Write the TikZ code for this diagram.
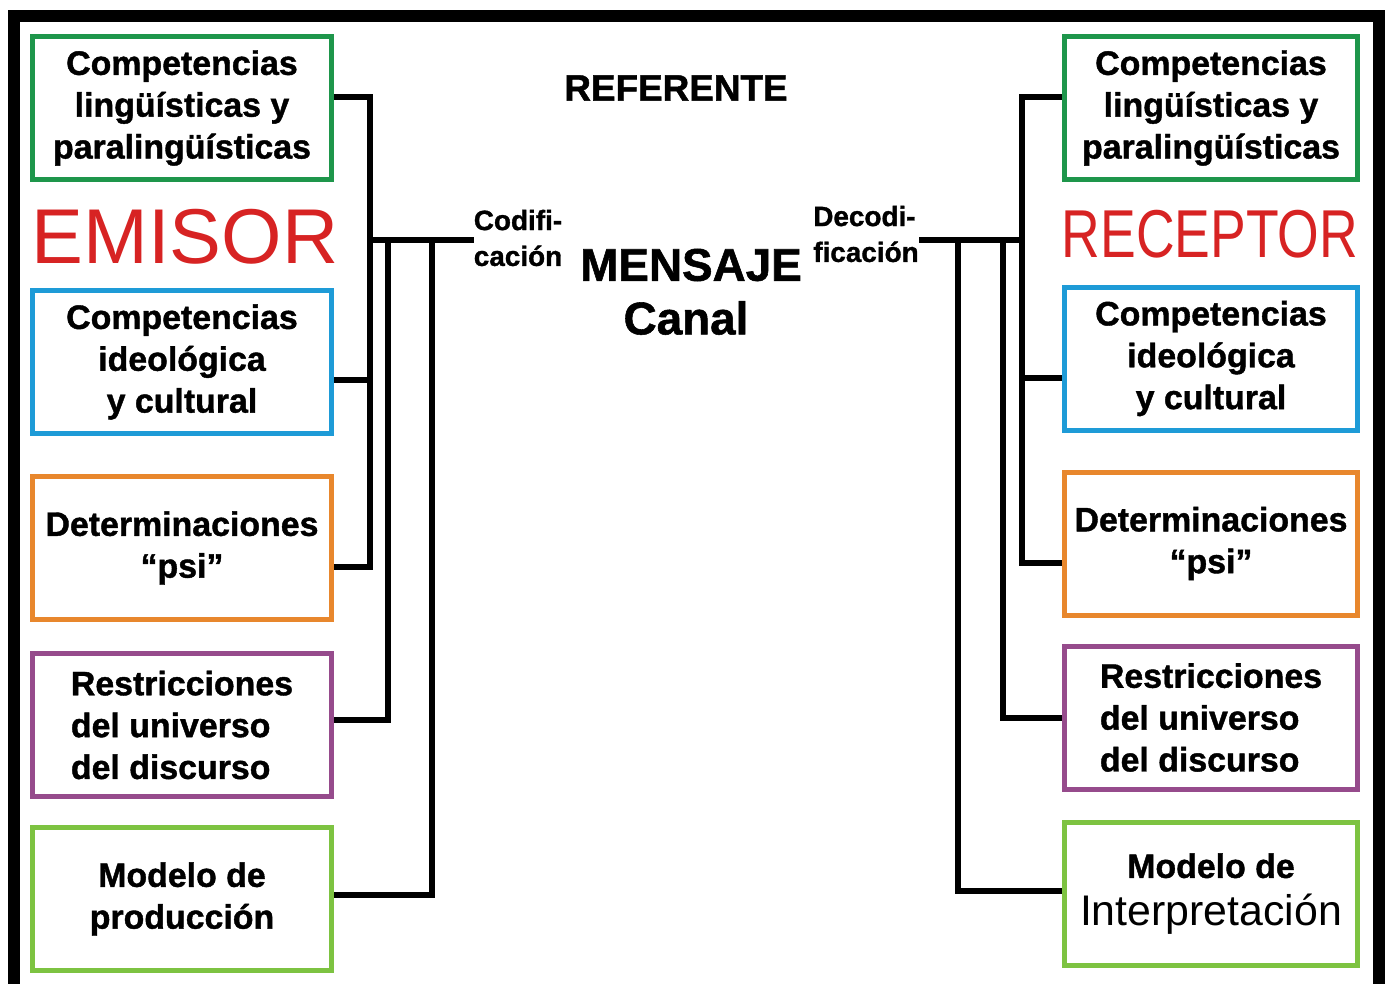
\documentclass[tikz,border=0pt]{standalone}
\usepackage{fontspec}
\setmainfont{Liberation Sans}[BoldFeatures={FakeBold=1.2}]
\usetikzlibrary{calc}
\definecolor{verdeOsc}{RGB}{30,150,75}
\definecolor{azulC}{RGB}{30,155,215}
\definecolor{naranja}{RGB}{232,135,45}
\definecolor{morado}{RGB}{150,75,140}
\definecolor{verdeCl}{RGB}{125,195,65}
\definecolor{rojoT}{RGB}{215,35,35}
\newcommand{\cajafont}{\fontsize{34}{42}\selectfont\bfseries}
\newcommand{\codfont}{\fontsize{28}{36}\selectfont\bfseries}

\begin{document}
\begin{tikzpicture}[x=1bp,y=-1bp,
caja/.style={draw, line width=5bp, minimum width=299bp, minimum height=143bp,
  inner sep=0pt, align=center, font=\cajafont},
wire/.style={line width=6bp},
polo/.style={inner sep=0pt, text=rojoT},
rotulo/.style={inner sep=0pt, font=\codfont, align=left}]
\clip (0,0) rectangle (1389,983);
\draw[line width=12bp] (14,15.5) rectangle (1379,1010);

% emisor
\node[caja, draw=verdeOsc] (e1) at (182,108) {Competencias\\lingüísticas y\\paralingüísticas};
\node[polo, font=\fontsize{78}{80}\selectfont] (emisor) at (185,237) {EMISOR};
\node[caja, draw=azulC] (e2) at (182,362) {Competencias\\ideológica\\y cultural};
\node[caja, draw=naranja] (e3) at (182,548) {Determinaciones\\“psi”};
\node[caja, draw=morado, align=left] (e4) at (182,725) {Restricciones\\del universo\\del discurso};
\node[caja, draw=verdeCl] (e5) at (182,899) {Modelo de\\producción};

% receptor
\node[caja, draw=verdeOsc, minimum width=293bp] (r1) at (1211,108) {Competencias\\lingüísticas y\\paralingüísticas};
\node[polo, font=\fontsize{68}{72}\selectfont] (receptor) at (1210,234) {\scalebox{0.79}[1]{RECEPTOR}};
\node[caja, draw=azulC, minimum width=293bp] (r2) at (1211,358.5) {Competencias\\ideológica\\y cultural};
\node[caja, draw=naranja, minimum width=293bp] (r3) at (1211,543.5) {Determinaciones\\“psi”};
\node[caja, draw=morado, minimum width=293bp, align=left] (r4) at (1211,717.5) {Restricciones\\del universo\\del discurso};
\node[caja, draw=verdeCl, minimum width=293bp] (r5) at (1211,894)
  {Modelo de\\[6bp]{\mdseries\fontsize{43}{48}\selectfont Interpretación}};

% centro
\node[inner sep=0pt, font=\fontsize{37}{40}\selectfont\bfseries] (referente) at (676,88) {REFERENTE};
\node[rotulo] (cod) at (518,238) {Codifi-\\cación};
\node[rotulo] (decod) at (866,234) {Decodi-\\ficación};
\node[inner sep=0pt, font=\fontsize{46}{50}\selectfont\bfseries] (mensaje) at (691,265) {MENSAJE};
\node[inner sep=0pt, font=\fontsize{46}{50}\selectfont\bfseries] (canal) at (686,318) {Canal};

\coordinate (lA) at (370,240);
\coordinate (lB) at (388,240);
\coordinate (lC) at (432,240);
\coordinate (rA) at (1022,240);
\coordinate (rB) at (1003,240);
\coordinate (rC) at (958,240);

\draw[wire] ([yshift=11bp]e1.east) -| ([yshift=-19bp]e3.east -| lA) -- ([yshift=-19bp]e3.east);
\draw[wire] ([yshift=-18bp]e2.east) -- ([yshift=-18bp]e2.east -| lA);
\draw[wire] (lA) -- (lA -| cod.west);
\draw[wire] (lB) |- ([yshift=5bp]e4.east);
\draw[wire] (lC) |- ([yshift=4bp]e5.east);

\draw[wire] ([yshift=11bp]r1.west) -| ([yshift=-19.5bp]r3.west -| rA) -- ([yshift=-19.5bp]r3.west);
\draw[wire] ([yshift=-19.5bp]r2.west) -- ([yshift=-19.5bp]r2.west -| rA);
\draw[wire] (rA) -- (rA -| decod.east);
\draw[wire] (rB) |- (r4.west);
\draw[wire] (rC) |- ([yshift=3.5bp]r5.west);
\end{tikzpicture}
\end{document}
